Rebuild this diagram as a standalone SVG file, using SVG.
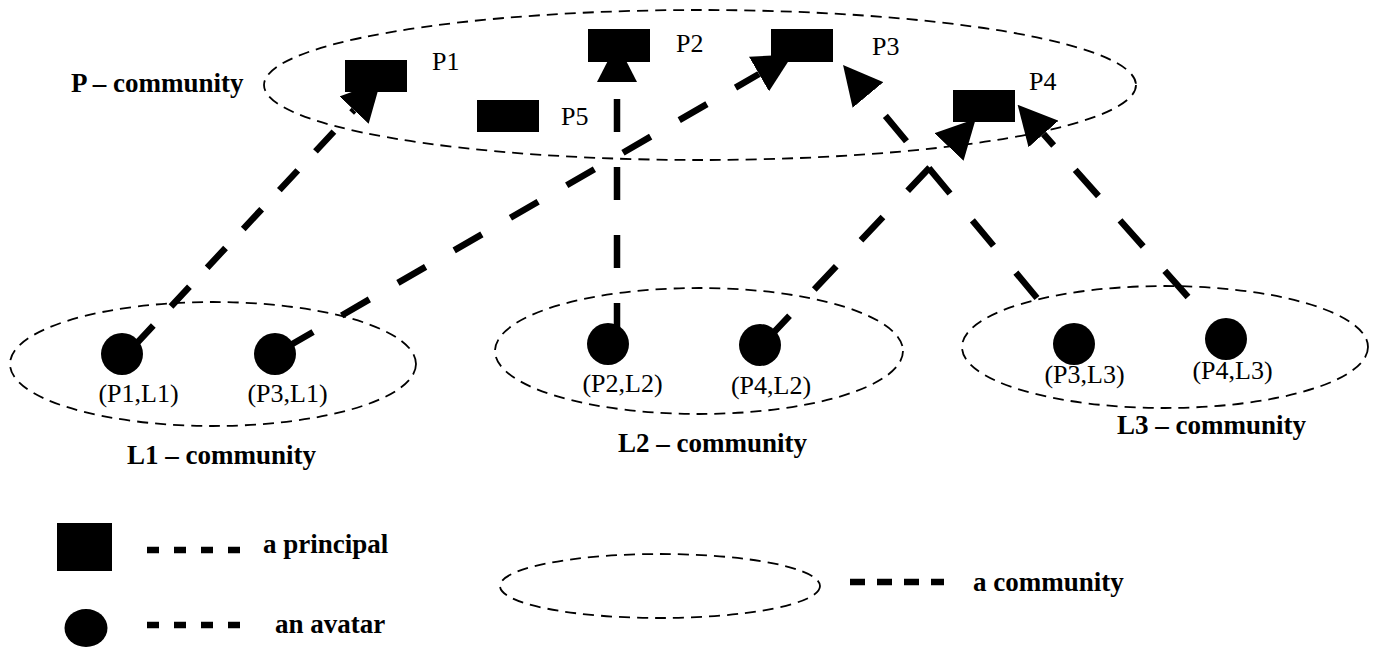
<svg xmlns="http://www.w3.org/2000/svg" width="1374" height="649" viewBox="0 0 1374 649">
  <style>
    .bg { fill: #ffffff; }
    .principal { fill: #000000; }
    .avatar { fill: #000000; }
    .community { fill: none; stroke: #000000; stroke-width: 1.8; stroke-dasharray: 11 7; }
    .link { fill: none; stroke: #000000; stroke-width: 6.5; stroke-linecap: butt; marker-end: url(#head); }
    .key { fill: none; stroke: #000000; stroke-width: 6.5; }
    .lbl { font-family: "Liberation Serif", "Times New Roman", serif; font-size: 26px; fill: #000000; }
    .title { font-family: "Liberation Serif", "Times New Roman", serif; font-size: 27px; font-weight: bold; fill: #000000; }
  </style>
  <defs>
    <marker id="head" markerUnits="userSpaceOnUse" viewBox="0 -20 39 40" markerWidth="39" markerHeight="40" refX="0" refY="0" orient="auto">
      <path d="M0,-20 L39,0 L0,20 z" fill="#000000"/>
    </marker>
  </defs>

  <rect class="bg" x="0" y="0" width="1374" height="649"/>

  <!-- communities -->
  <g id="community-P">
    <ellipse class="community" cx="700" cy="85" rx="436" ry="75"/>
    <text class="title" x="71" y="92">P – community</text>
  </g>
  <g id="community-L1">
    <ellipse class="community" cx="213" cy="364" rx="203" ry="62"/>
    <text class="title" x="127" y="464">L1 – community</text>
  </g>
  <g id="community-L2">
    <ellipse class="community" cx="699" cy="351" rx="204" ry="63"/>
    <text class="title" x="618" y="452">L2 – community</text>
  </g>
  <g id="community-L3">
    <ellipse class="community" cx="1165" cy="347" rx="203" ry="61"/>
    <text class="title" x="1117" y="434">L3 – community</text>
  </g>

  <!-- avatar-to-principal links -->
  <g id="connectors">
    <line class="link" x1="124" y1="357" x2="354" y2="110" stroke-dasharray="27 26" stroke-dashoffset="37"/>
    <line class="link" x1="275" y1="354" x2="759" y2="74" stroke-dasharray="32 33" stroke-dashoffset="53"/>
    <line class="link" x1="617" y1="336" x2="617" y2="82" stroke-dasharray="33 35"/>
    <line class="link" x1="760" y1="347" x2="949" y2="147" stroke-dasharray="32 36" stroke-dashoffset="57"/>
    <line class="link" x1="1037" y1="298" x2="868" y2="95" stroke-dasharray="33 35"/>
    <line class="link" x1="1188" y1="297" x2="1043.5" y2="134" stroke-dasharray="35 32.5"/>
  </g>

  <!-- principals -->
  <g id="P1">
    <rect class="principal" x="345" y="60" width="62" height="32"/>
    <text class="lbl" x="432" y="70">P1</text>
  </g>
  <g id="P2">
    <rect class="principal" x="588" y="29" width="62" height="33"/>
    <text class="lbl" x="676" y="52">P2</text>
  </g>
  <g id="P3">
    <rect class="principal" x="771" y="29" width="62" height="33"/>
    <text class="lbl" x="872" y="55">P3</text>
  </g>
  <g id="P4">
    <rect class="principal" x="953" y="90" width="62" height="32"/>
    <text class="lbl" x="1029" y="90">P4</text>
  </g>
  <g id="P5">
    <rect class="principal" x="477" y="100" width="62" height="32"/>
    <text class="lbl" x="561" y="125">P5</text>
  </g>

  <!-- avatars -->
  <g id="P1-L1">
    <circle class="avatar" cx="122" cy="354" r="21"/>
    <text class="lbl" x="138.5" y="402" text-anchor="middle">(P1,L1)</text>
  </g>
  <g id="P3-L1">
    <circle class="avatar" cx="275" cy="354" r="21"/>
    <text class="lbl" x="287.5" y="402" text-anchor="middle">(P3,L1)</text>
  </g>
  <g id="P2-L2">
    <circle class="avatar" cx="608" cy="344" r="21"/>
    <text class="lbl" x="622.5" y="392" text-anchor="middle">(P2,L2)</text>
  </g>
  <g id="P4-L2">
    <circle class="avatar" cx="760" cy="345" r="21"/>
    <text class="lbl" x="771" y="394" text-anchor="middle">(P4,L2)</text>
  </g>
  <g id="P3-L3">
    <circle class="avatar" cx="1074" cy="344" r="21"/>
    <text class="lbl" x="1084.5" y="383" text-anchor="middle">(P3,L3)</text>
  </g>
  <g id="P4-L3">
    <circle class="avatar" cx="1226" cy="339" r="21"/>
    <text class="lbl" x="1232.5" y="379" text-anchor="middle">(P4,L3)</text>
  </g>

  <!-- legend -->
  <g id="legend-principal">
    <rect class="principal" x="57" y="523" width="55" height="48"/>
    <line class="key" x1="147" y1="550" x2="240" y2="550" stroke-dasharray="12 15"/>
    <text class="title" x="263" y="553">a principal</text>
  </g>
  <g id="legend-avatar">
    <ellipse class="avatar" cx="86" cy="628" rx="21.5" ry="19"/>
    <line class="key" x1="147" y1="625" x2="240" y2="625" stroke-dasharray="12 15"/>
    <text class="title" x="275" y="633">an avatar</text>
  </g>
  <g id="legend-community">
    <ellipse class="community" cx="660" cy="586" rx="160" ry="32"/>
    <line class="key" x1="850" y1="582" x2="944" y2="582" stroke-dasharray="15 12"/>
    <text class="title" x="973" y="591">a community</text>
  </g>
</svg>
